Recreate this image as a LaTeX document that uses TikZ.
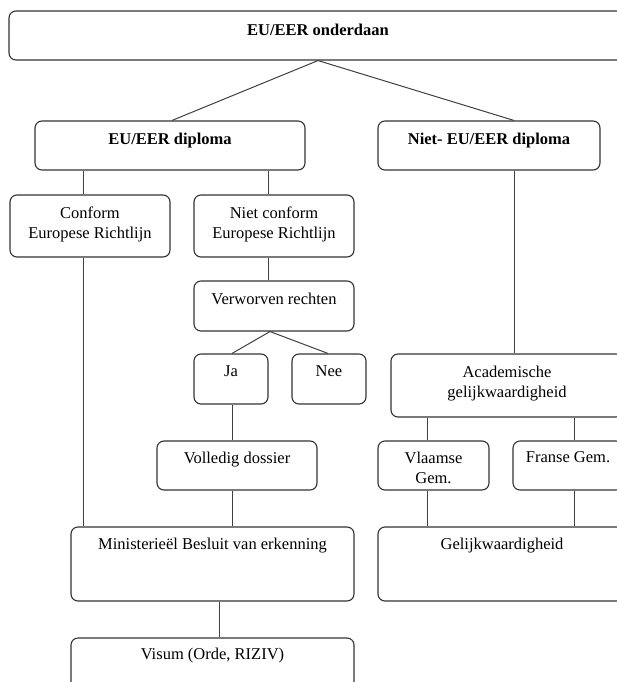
\documentclass[tikz,border=0pt]{standalone}
\usepackage{fontspec}
\setmainfont{Liberation Serif}
\usetikzlibrary{calc}
\begin{document}
\begin{tikzpicture}[x=1pt,y=-1pt,
  box/.style={draw=black!80, line width=1.1pt, rounded corners=7pt, inner sep=0pt, fill=white},
  txt/.style={anchor=north, inner sep=0pt, align=center, font=\fontsize{16.5}{19.5}\selectfont, text=black},
  btxt/.style={txt, font=\fontsize{16.5}{19.5}\selectfont\bfseries},
  conn/.style={draw=black!75, line width=1pt}]
\useasboundingbox (0,0) rectangle (617,682);
\clip (0,0) rectangle (617,682);
% boxes: centre and size in px
\node[box, minimum width=618pt, minimum height=49pt] (top) at (318,35.5) {};
\node[box, minimum width=270pt, minimum height=49pt] (eud) at (170,145.5) {};
\node[box, minimum width=222pt, minimum height=49pt] (nieteu) at (489,145.5) {};
\node[box, minimum width=160pt, minimum height=62pt] (conform) at (90,226) {};
\node[box, minimum width=160pt, minimum height=62pt] (nietconf) at (274,226) {};
\node[box, minimum width=160pt, minimum height=50pt] (verw) at (274,306) {};
\node[box, minimum width=74pt, minimum height=50pt] (ja) at (231,379) {};
\node[box, minimum width=74pt, minimum height=50pt] (nee) at (329,379) {};
\node[box, minimum width=160pt, minimum height=49pt] (vol) at (237,465.5) {};
\node[box, minimum width=283pt, minimum height=74pt] (minis) at (212.5,564) {};
\node[box, minimum width=283pt, minimum height=72pt] (visum) at (212.5,674) {};
\node[box, minimum width=232pt, minimum height=63pt] (acad) at (507,385.5) {};
\node[box, minimum width=111pt, minimum height=49pt] (vlaam) at (433.5,465.5) {};
\node[box, minimum width=110pt, minimum height=49pt] (franse) at (568,465.5) {};
\node[box, minimum width=248pt, minimum height=74pt] (gelijk) at (502,564) {};
% texts
\node[btxt] (top-t) at ($(top.north)+(0,13)$) {EU/EER onderdaan};
\node[btxt] (eud-t) at ($(eud.north)+(0,12)$) {EU/EER diploma};
\node[btxt] (nieteu-t) at ($(nieteu.north)+(0,12)$) {Niet- EU/EER diploma};
\node[txt] (conform-t) at ($(conform.north)+(0,12.5)$) {Conform\\Europese Richtlijn};
\node[txt] (nietconf-t) at ($(nietconf.north)+(0,12.5)$) {Niet conform\\Europese Richtlijn};
\node[txt] (verw-t) at ($(verw.north)+(0,12)$) {Verworven rechten};
\node[txt] (ja-t) at ($(ja.north)+(0,12)$) {Ja};
\node[txt] (nee-t) at ($(nee.north)+(0,12)$) {Nee};
\node[txt] (vol-t) at ($(vol.north)+(0,11)$) {Volledig dossier};
\node[txt] (minis-t) at ($(minis.north)+(0,11.5)$) {Ministerieël Besluit van erkenning};
\node[txt] (visum-t) at ($(visum.north)+(0,10)$) {Visum (Orde, RIZIV)};
\node[txt] (acad-t) at ($(acad.north)+(0,12.5)$) {Academische\\gelijkwaardigheid};
\node[txt] (vlaam-t) at ($(vlaam.north)+(0,11.5)$) {Vlaamse\\Gem.};
\node[txt] (franse-t) at ($(franse.north)+(0,11)$) {Franse Gem.};
\node[txt] (gelijk-t) at ($(gelijk.north)+(0,11)$) {Gelijkwaardigheid};
% x positions of vertical connectors
\coordinate (xA) at (83,0);
\coordinate (xB) at (268,0);
\coordinate (xJ) at (232,0);
\coordinate (xM) at (219,0);
\coordinate (xN) at (514,0);
\coordinate (xV) at (427,0);
\coordinate (xF) at (574,0);
\coordinate (xR) at (270,0);
\coordinate (xRa) at (232,0);
\coordinate (xRb) at (328,0);
\coordinate (xT) at (318,0);
\coordinate (xE) at (172,0);
% connectors
\draw[conn] (top.south -| xT) -- (eud.north -| xE);
\draw[conn] (top.south -| xT) -- (nieteu.north -| xN);
\draw[conn] (eud.south -| xA) -- (conform.north -| xA);
\draw[conn] (eud.south -| xB) -- (nietconf.north -| xB);
\draw[conn] (conform.south -| xA) -- (minis.north -| xA);
\draw[conn] (nietconf.south -| xB) -- (verw.north -| xB);
\draw[conn] (verw.south -| xR) -- (ja.north -| xRa);
\draw[conn] (verw.south -| xR) -- (nee.north -| xRb);
\draw[conn] (ja.south -| xJ) -- (vol.north -| xJ);
\draw[conn] (vol.south -| xJ) -- (minis.north -| xJ);
\draw[conn] (minis.south -| xM) -- (visum.north -| xM);
\draw[conn] (nieteu.south -| xN) -- (acad.north -| xN);
\draw[conn] (acad.south -| xV) -- (vlaam.north -| xV);
\draw[conn] (acad.south -| xF) -- (franse.north -| xF);
\draw[conn] (vlaam.south -| xV) -- (gelijk.north -| xV);
\draw[conn] (franse.south -| xF) -- (gelijk.north -| xF);
\end{tikzpicture}
\end{document}
